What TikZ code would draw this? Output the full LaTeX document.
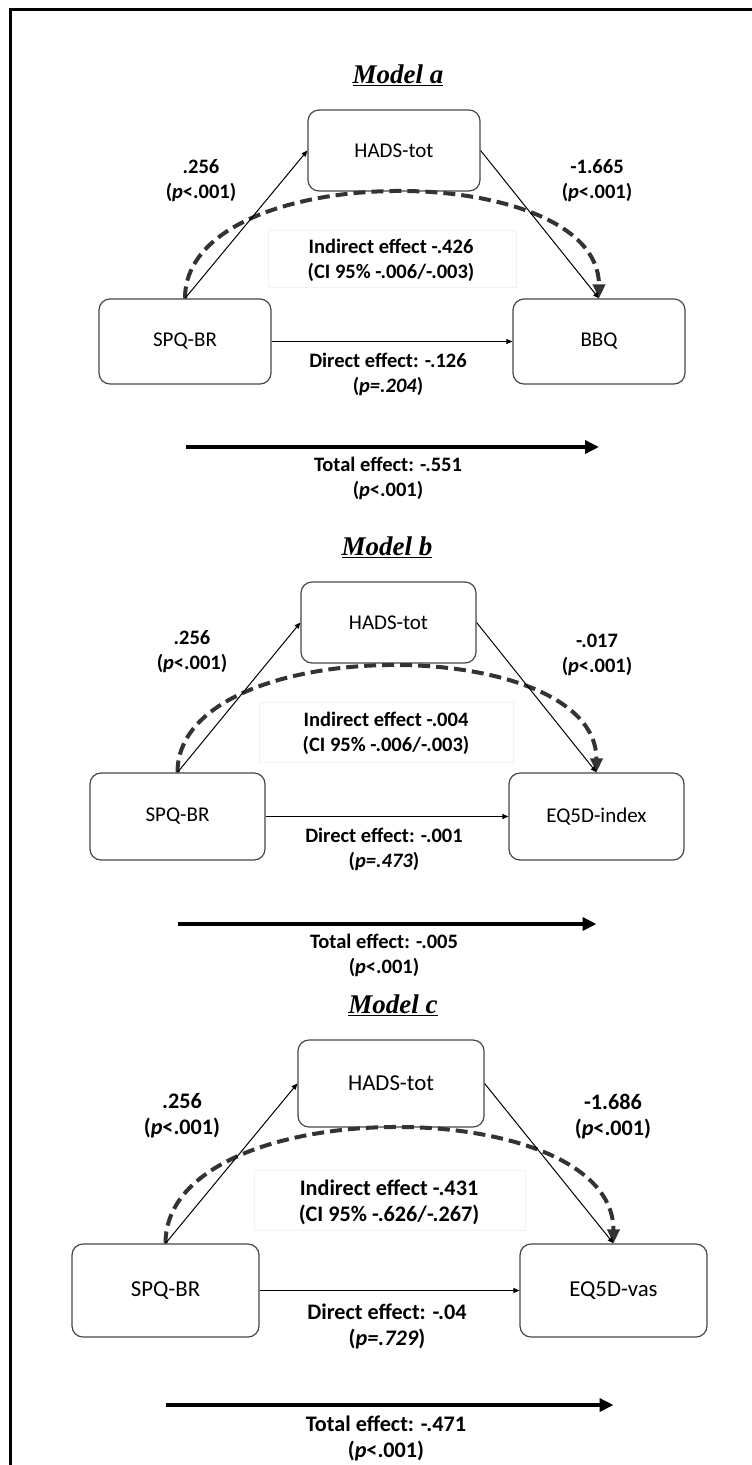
\documentclass[tikz,border=0pt]{standalone}
\usepackage{fontspec}
\setmainfont{Carlito}
\newfontfamily\carl{Carlito}
\newfontfamily\ttl{Liberation Serif}
\usetikzlibrary{arrows.meta}
\tikzset{
  box/.style={draw=black!72, line width=1.2pt, rounded corners=11pt, inner sep=0pt, fill=white},
  boxa/.style={box, font=\carl\fontsize{21}{24}\selectfont},
  boxc/.style={box, font=\carl\fontsize{22.8}{26}\selectfont},
  lbla/.style={align=center, inner sep=0pt, font=\carl\bfseries\fontsize{20.5}{25}\selectfont},
  lblc/.style={align=center, inner sep=0pt, font=\carl\bfseries\fontsize{22.2}{26}\selectfont},
  modeltitle/.style={inner sep=0pt, font=\ttl\bfseries\itshape\fontsize{27}{30}\selectfont},
  thin/.style={line width=1pt, -{Triangle[length=6pt,width=5pt]}},
  indir/.style={draw=black!80, line width=4pt, dash pattern=on 12pt off 6pt, -{Triangle[length=14pt,width=12pt]}},
  total/.style={line width=4pt, -{Triangle[length=14pt,width=13pt]}},
  faint/.style={draw=black!5, line width=0.8pt},
  frame/.style={line width=3pt}
}
\begin{document}
\begin{tikzpicture}[x=1pt,y=-1pt]
\useasboundingbox (0,0) rectangle (752,1465);
\coordinate (f0) at (10,1465);
\coordinate (f1) at (10,9);
\coordinate (f2) at (752,9);
\draw[frame] (f0) -- (f1) -- (f2);

% ---------------- Model a ----------------
\node[modeltitle] (a-title) at (398,75) {\underline{Model a}};
\draw[faint] (268,230) rectangle (516,287);
\node[boxa, minimum width=172pt, minimum height=81pt] (a-h) at (394,150.5) {HADS-tot};
\node[boxa, minimum width=172pt, minimum height=85pt] (a-s) at (185,341.5) {SPQ-BR};
\node[boxa, minimum width=172pt, minimum height=85pt] (a-o) at (599,341.5) {BBQ};
\draw[indir] (a-s.north) .. controls +(0,-141) and +(0,-141) .. (a-o.north);
\draw[thin] (a-s.north) -- (a-h.west);
\draw[thin] (a-h.east) -- (a-o.north);
\draw[thin] (a-s.east) -- (a-o.west);
\node[lbla] (a-l1) at (201,180.5) {.256\\(\textit{p}<.001)};
\node[lbla] (a-l2) at (597,180.5) {-1.665\\(\textit{p}<.001)};
\node[lbla] (a-ind) at (391,260) {Indirect effect -.426\\(CI 95\% -.006/-.003)};
\node[lbla] (a-dir) at (388,374.5) {Direct effect: -.126\\(\textit{p=.204})};
\coordinate (a-t0) at (186,447);
\coordinate (a-t1) at (599,447);
\draw[total] (a-t0) -- (a-t1);
\node[lbla] (a-tot) at (388,478.5) {Total effect: -.551\\(\textit{p}<.001)};

% ---------------- Model b ----------------
\node[modeltitle] (b-title) at (387,547) {\underline{Model b}};
\draw[faint] (259,702) rectangle (513,762);
\node[boxa, minimum width=175pt, minimum height=81pt] (b-h) at (388.5,622.5) {HADS-tot};
\node[boxa, minimum width=175pt, minimum height=87pt] (b-s) at (177.5,816.5) {SPQ-BR};
\node[boxa, minimum width=175pt, minimum height=87pt] (b-o) at (596.5,816.5) {EQ5D-index};
\draw[indir] (b-s.north) .. controls +(0,-141) and +(0,-141) .. (b-o.north);
\draw[thin] (b-s.north) -- (b-h.west);
\draw[thin] (b-h.east) -- (b-o.north);
\draw[thin] (b-s.east) -- (b-o.west);
\node[lbla] (b-l1) at (192,652) {.256\\(\textit{p}<.001)};
\node[lbla] (b-l2) at (597,654.5) {-.017\\(\textit{p}<.001)};
\node[lbla] (b-ind) at (386,733.5) {Indirect effect -.004\\(CI 95\% -.006/-.003)};
\node[lbla] (b-dir) at (384,849.5) {Direct effect: -.001\\(\textit{p=.473})};
\coordinate (b-t0) at (177.5,924);
\coordinate (b-t1) at (596.5,924);
\draw[total] (b-t0) -- (b-t1);
\node[lbla] (b-tot) at (384,955.5) {Total effect: -.005\\(\textit{p}<.001)};

% ---------------- Model c ----------------
\node[modeltitle] (c-title) at (393,1005) {\underline{Model c}};
\draw[faint] (254,1170) rectangle (525,1230);
\node[boxc, minimum width=186pt, minimum height=87pt] (c-h) at (391,1083.5) {HADS-tot};
\node[boxc, minimum width=187pt, minimum height=93pt] (c-s) at (165.5,1290.5) {SPQ-BR};
\node[boxc, minimum width=187pt, minimum height=93pt] (c-o) at (613.5,1290.5) {EQ5D-vas};
\draw[indir] (c-s.north) .. controls +(0,-153) and +(0,-153) .. (c-o.north);
\draw[thin] (c-s.north) -- (c-h.west);
\draw[thin] (c-h.east) -- (c-o.north);
\draw[thin] (c-s.east) -- (c-o.west);
\node[lblc] (c-l1) at (182,1115.5) {.256\\(\textit{p}<.001)};
\node[lblc] (c-l2) at (613,1117) {-1.686\\(\textit{p}<.001)};
\node[lblc] (c-ind) at (389,1202) {Indirect effect -.431\\(CI 95\% -.626/-.267)};
\node[lblc] (c-dir) at (387,1326) {Direct effect: -.04\\(\textit{p=.729})};
\coordinate (c-t0) at (165.5,1405);
\coordinate (c-t1) at (613.5,1405);
\draw[total] (c-t0) -- (c-t1);
\node[lblc] (c-tot) at (386,1438.5) {Total effect: -.471\\(\textit{p}<.001)};
\end{tikzpicture}
\end{document}
